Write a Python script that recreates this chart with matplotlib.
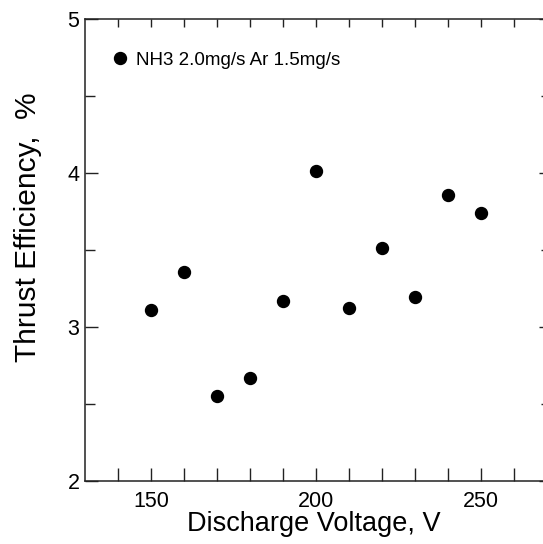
import matplotlib
matplotlib.use("Agg")
import matplotlib.pyplot as plt
import numpy as np

voltage = [150, 160, 170, 180, 190, 200, 210, 220, 230, 240, 250]
efficiency = [3.11, 3.357, 2.552, 2.671, 3.169, 4.015, 3.125, 3.513, 3.197, 3.857, 3.742]
series_label = "NH3 2.0mg/s Ar 1.5mg/s"
x_label = "Discharge Voltage, V"
y_label = "Thrust Efficiency,  %"

plt.rcParams['font.family'] = ['Liberation Sans', 'DejaVu Sans']

W, H = 543, 544
fig = plt.figure(figsize=(W / 100, H / 100), dpi=100)
L, R, B, T = 85, 547, 481, 19
ax = fig.add_axes([L / W, (H - B) / H, (R - L) / W, (B - T) / H])

ax.plot(voltage, efficiency, 'o', color='black', markersize=8.6, label=series_label,
        clip_on=False)

ax.set_xlim(130, 270)
ax.set_ylim(2, 5)

ax.set_xticks(np.arange(140, 261, 10))
ax.set_xticklabels([str(v) if v in (150, 200, 250) else '' for v in range(140, 261, 10)])
ax.set_yticks([2, 3, 4, 5])
ax.set_yticks(np.arange(2.5, 5, 1.0), minor=True)

edge = '#222222'
for s in ax.spines.values():
    s.set_linewidth(1.1)
    s.set_color(edge)

ax.tick_params(axis='x', which='major', direction='in', length=9.5, width=1.0,
               color=edge, labelsize=15.5, pad=7, top=False)
ax.tick_params(axis='y', which='major', direction='in', length=9.5, width=1.0,
               color=edge, labelsize=15.5, pad=4, right=False)
ax.tick_params(axis='y', which='minor', direction='in', length=7, width=1.0,
               color=edge, right=False)

# top and right ticks (shorter, unlabeled)
secx = ax.secondary_xaxis('top')
secx.set_xticks(np.arange(140, 261, 10))
secx.tick_params(direction='in', length=6, width=1.0, color=edge, labeltop=False)
secx.spines['top'].set_visible(False)
secy = ax.secondary_yaxis('right')
secy.set_yticks([2, 3, 4, 5])
secy.set_yticks(np.arange(2.5, 5, 1.0), minor=True)
secy.tick_params(which='major', direction='in', length=6, width=1.0, color=edge, labelright=False)
secy.tick_params(which='minor', direction='in', length=4, width=1.0, color=edge)
secy.spines['right'].set_visible(False)

ax.set_xlabel(x_label, fontsize=19.5, va='center', ha='center')
ax.xaxis.set_label_coords((314 - L) / (R - L), -(524 - B) / (B - T))
ax.set_ylabel(y_label, fontsize=21.5, va='center', ha='center')
ax.yaxis.set_label_coords((28 - L) / (R - L), (B - 227) / (B - T))

ax.legend(loc='upper left', frameon=False, fontsize=13.5, handletextpad=0.35,
          borderaxespad=0.0, bbox_to_anchor=(0.04, 0.945), markerscale=1.0,
          handlelength=1.0)

fig.savefig('out.png', dpi=100)
